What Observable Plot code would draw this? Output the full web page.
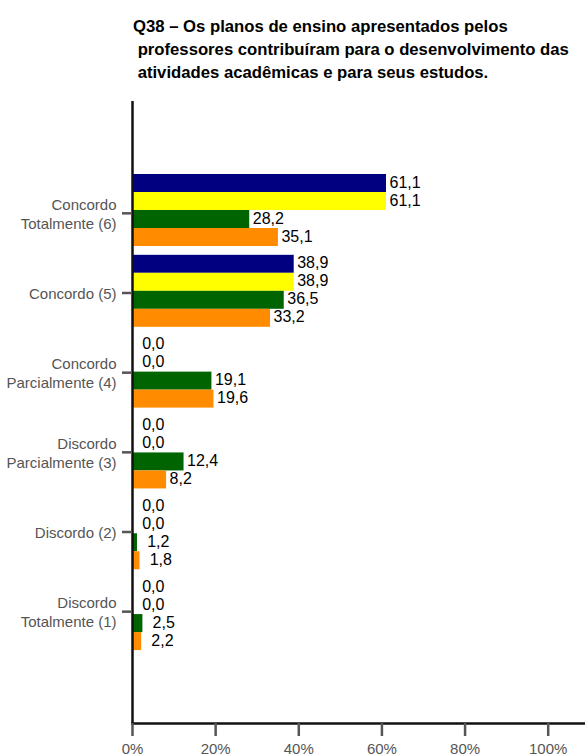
<!DOCTYPE html>
<html><head><meta charset="utf-8">
<script src="https://cdn.jsdelivr.net/npm/d3@7"></script>
<script src="https://cdn.jsdelivr.net/npm/@observablehq/plot@0.6"></script>
<style>
body{margin:0;background:#fff;}
#wrap{position:relative;width:585px;height:756px;overflow:hidden;background:#fff;}
#title{position:absolute;left:133px;top:15px;font-family:"Liberation Sans",Arial,sans-serif;font-weight:bold;font-size:16.7px;line-height:23px;white-space:pre;color:#000;}
#chart{position:absolute;left:0;top:90px;width:585px;height:666px;}
#chart svg{position:absolute;left:0;top:0;}
</style></head><body>
<div id="wrap"><div id="title">Q38 – Os planos de ensino apresentados pelos
 professores contribuíram para o desenvolvimento das
 atividades acadêmicas e para seus estudos.</div><div id="chart"></div></div>
<script>
const categories = ["Concordo Totalmente (6)", "Concordo (5)", "Concordo Parcialmente (4)", "Discordo Parcialmente (3)", "Discordo (2)", "Discordo Totalmente (1)"];
const categoryLabels = ["Concordo\nTotalmente (6)", "Concordo (5)", "Concordo\nParcialmente (4)", "Discordo\nParcialmente (3)", "Discordo (2)", "Discordo\nTotalmente (1)"];
const series = ["Série 1", "Série 2", "Série 3", "Série 4"];
const serie1 = [61.1, 38.9, 0.0, 0.0, 0.0, 0.0];
const serie2 = [61.1, 38.9, 0.0, 0.0, 0.0, 0.0];
const serie3 = [28.2, 36.5, 19.1, 12.4, 1.2, 2.5];
const serie4 = [35.1, 33.2, 19.6, 8.2, 1.8, 2.2];
const seriesColors = ["#000080", "#ffff00", "#006400", "#ff8c00"];
const xTicks = [0, 20, 40, 60, 80, 100];

const allValues = [serie1, serie2, serie3, serie4];
const rows = [];
categories.forEach((c, i) => series.forEach((s, k) => rows.push({category: c, series: s, value: allValues[k][i]})));
const labelOf = new Map(categories.map((c, i) => [c, categoryLabels[i]]));
const fmt = v => v.toFixed(1).replace(".", ",");
const FONT = "Liberation Sans, Arial, sans-serif";

const common = {
  width: 585,
  height: 666,
  marginLeft: 132,
  marginRight: 0,
  marginTop: 11,
  marginBottom: 33,
  x: {domain: [0, 108.97]}
};
const band = {domain: categories, paddingInner: 0.085, paddingOuter: 0, insetTop: 72, insetBottom: 72, round: false};

// Bars, faceted by category
const bars = Plot.plot({
  ...common,
  style: {fontFamily: FONT, background: "white", overflow: "visible"},
  x: {...common.x, axis: null},
  y: {domain: series, axis: null, padding: 0},
  fy: {...band, axis: null},
  color: {domain: series, range: seriesColors},
  marks: [
    Plot.barX(rows, {fy: "category", y: "series", x: "value", fill: "series"}),
    Plot.text(rows, {fy: "category", y: "series", x: d => d.value < 5 ? d.value + 1.6 : d.value, text: d => fmt(d.value), textAnchor: "start", dx: 3, dy: -1, fontSize: 16, fill: "#000"})
  ]
});

// Axes, same frame and scales
const axes = Plot.plot({
  ...common,
  style: {fontFamily: FONT, background: "transparent", overflow: "visible"},
  y: band,
  marks: [
    Plot.ruleX([0], {stroke: "#111", strokeWidth: 2.5}),
    Plot.frame({anchor: "bottom", stroke: "#111", strokeWidth: 2.5}),
    Plot.axisX({anchor: "bottom", ticks: xTicks, tickFormat: d => d + "%", tickSize: 13, tickPadding: 7, fontSize: 15, color: "#555", strokeWidth: 2.5, label: null}),
    Plot.axisY({anchor: "left", tickSize: 10, tickPadding: 6, fontSize: 15, lineHeight: 1.25, tickFormat: d => labelOf.get(d), color: "#555", strokeWidth: 2.5, label: null})
  ]
});
const el = document.getElementById("chart");
el.appendChild(bars);
el.appendChild(axes);
</script>
</body></html>
